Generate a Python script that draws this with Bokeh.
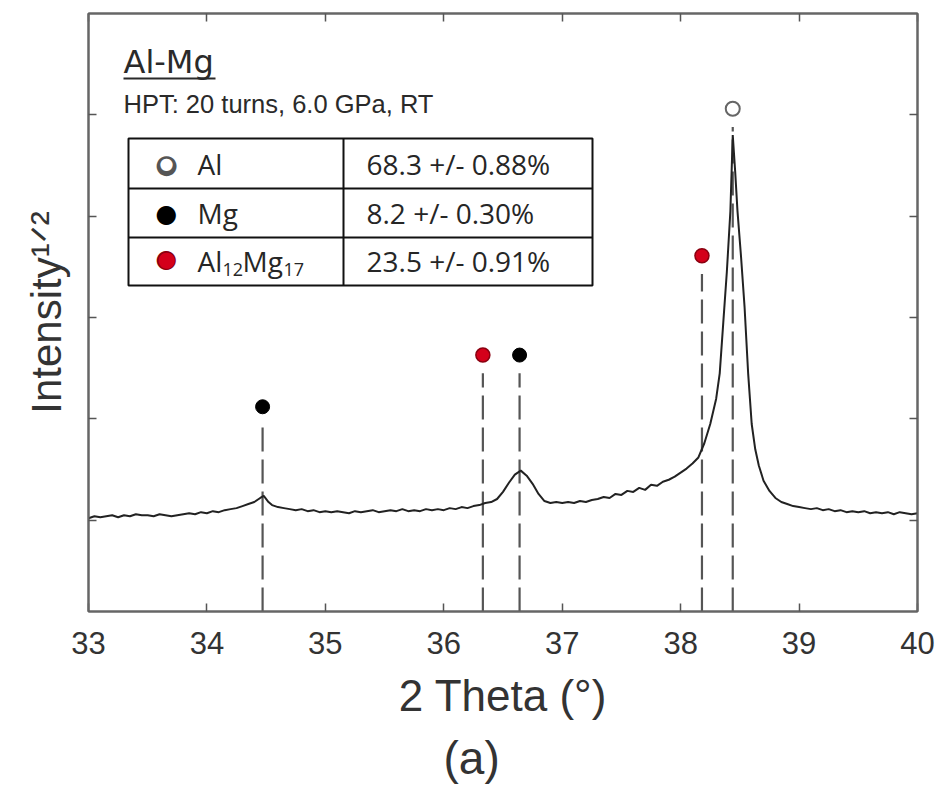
import numpy as np
from bokeh.plotting import figure
from bokeh.models import (Range1d, LinearAxis, FixedTicker, Label, BoxAnnotation, Title,
                          CustomJSTickFormatter)
from bokeh.embed import file_html
from bokeh.resources import INLINE

# ---------------- data ----------------
two_theta = [
    33.00, 33.05, 33.10, 33.15, 33.20, 33.25, 33.30, 33.35, 33.40, 33.45,
    33.50, 33.55, 33.60, 33.65, 33.70, 33.75, 33.80, 33.85, 33.90, 33.95,
    34.00, 34.05, 34.10, 34.15, 34.20, 34.25, 34.30, 34.35, 34.40, 34.45,
    34.48, 34.52, 34.55, 34.60, 34.65, 34.70, 34.75, 34.80, 34.85, 34.90,
    34.95, 35.00, 35.05, 35.10, 35.15, 35.20, 35.25, 35.30, 35.35, 35.40,
    35.45, 35.50, 35.55, 35.60, 35.65, 35.70, 35.75, 35.80, 35.85, 35.90,
    35.95, 36.00, 36.05, 36.10, 36.15, 36.20, 36.25, 36.30, 36.35, 36.40,
    36.45, 36.50, 36.55, 36.60, 36.65, 36.70, 36.75, 36.80, 36.85, 36.90,
    36.95, 37.00, 37.05, 37.10, 37.15, 37.20, 37.25, 37.30, 37.35, 37.40,
    37.45, 37.50, 37.55, 37.60, 37.65, 37.70, 37.75, 37.80, 37.85, 37.90,
    37.95, 38.00, 38.05, 38.10, 38.15, 38.20, 38.25, 38.30, 38.33, 38.36,
    38.39, 38.42, 38.44, 38.46, 38.48, 38.51, 38.54, 38.57, 38.60, 38.63,
    38.66, 38.70, 38.75, 38.80, 38.85, 38.90, 38.95, 39.00, 39.05, 39.10,
    39.15, 39.20, 39.25, 39.30, 39.35, 39.40, 39.45, 39.50, 39.55, 39.60,
    39.65, 39.70, 39.75, 39.80, 39.85, 39.90, 39.95, 40.00,
]
intensity = [
    1.02, 1.04, 1.03, 1.04, 1.05, 1.03, 1.05, 1.04, 1.06, 1.05,
    1.05, 1.04, 1.06, 1.05, 1.04, 1.05, 1.06, 1.07, 1.06, 1.08,
    1.07, 1.09, 1.08, 1.10, 1.11, 1.12, 1.14, 1.16, 1.18, 1.22,
    1.24, 1.18, 1.15, 1.13, 1.12, 1.11, 1.10, 1.11, 1.09, 1.10,
    1.08, 1.09, 1.08, 1.09, 1.08, 1.07, 1.09, 1.08, 1.09, 1.10,
    1.08, 1.09, 1.10, 1.09, 1.11, 1.09, 1.10, 1.09, 1.11, 1.10,
    1.11, 1.10, 1.12, 1.11, 1.13, 1.12, 1.14, 1.15, 1.17, 1.18,
    1.21, 1.28, 1.37, 1.45, 1.49, 1.44, 1.36, 1.26, 1.19, 1.17,
    1.18, 1.17, 1.18, 1.17, 1.19, 1.18, 1.20, 1.21, 1.23, 1.22,
    1.26, 1.25, 1.29, 1.28, 1.32, 1.30, 1.35, 1.34, 1.38, 1.40,
    1.43, 1.47, 1.51, 1.56, 1.62, 1.76, 1.95, 2.20, 2.45, 2.95,
    3.45, 4.05, 4.80, 4.45, 4.05, 3.60, 3.10, 2.45, 1.95, 1.70,
    1.54, 1.39, 1.29, 1.22, 1.18, 1.16, 1.14, 1.13, 1.12, 1.11,
    1.12, 1.10, 1.11, 1.09, 1.10, 1.08, 1.09, 1.08, 1.09, 1.07,
    1.08, 1.07, 1.08, 1.06, 1.08, 1.07, 1.06, 1.07,
]

x_ticks = [33, 34, 35, 36, 37, 38, 39, 40]
y_ticks = [1, 2, 3, 4, 5]
x_min, x_max = 33.0, 40.0
y_min, y_max = 0.1, 6.0

# reflection positions (2 theta) and marker heights
al_peaks = [38.44]
al_marker_y = [5.06]
mg_peaks = [34.47, 36.64]
mg_marker_y = [2.12, 2.63]
al12mg17_peaks = [36.33, 38.18]
al12mg17_marker_y = [2.63, 3.61]

phase_fractions = ["68.3 +/- 0.88%", "8.2 +/- 0.30%", "23.5 +/- 0.91%"]

# ---------------- figure ----------------
W, H = 938, 791
p = figure(width=W, height=H, x_range=Range1d(x_min, x_max), y_range=Range1d(y_min, y_max),
           output_backend="svg", toolbar_location=None,
           min_border_left=88, min_border_right=W - 917, min_border_top=13,
           min_border_bottom=H - 611)
p.xgrid.visible = False
p.ygrid.visible = False
p.outline_line_color = "#666666"
p.outline_line_width = 2
p.background_fill_color = "white"
p.border_fill_color = "white"

AX = "#666666"
TK = "#555555"

def style_axis(ax, show_labels=False):
    ax.axis_line_color = AX
    ax.axis_line_width = 2
    ax.major_tick_in = 8
    ax.major_tick_out = 0
    ax.minor_tick_in = 0
    ax.minor_tick_out = 0
    ax.major_tick_line_color = TK
    ax.major_tick_line_width = 1.5
    if not show_labels:
        ax.formatter = CustomJSTickFormatter(code="return ''")
        ax.major_label_text_font_size = "1px"
        ax.major_label_standoff = 0

p.xaxis.ticker = FixedTicker(ticks=x_ticks)
p.yaxis.ticker = FixedTicker(ticks=y_ticks)
style_axis(p.xaxis[0], show_labels=True)
style_axis(p.yaxis[0])
p.xaxis.major_label_text_font = "Liberation Sans"
p.xaxis.major_label_text_font_size = "31px"
p.xaxis.major_label_text_color = "#333333"
p.xaxis.major_label_standoff = 20

p.xaxis.axis_label = "2 Theta (\u00B0)"
p.xaxis.axis_label_text_font = "Liberation Sans"
p.xaxis.axis_label_text_font_size = "44px"
p.xaxis.axis_label_text_font_style = "normal"
p.xaxis.axis_label_text_color = "#333333"
p.xaxis.axis_label_standoff = 14

p.yaxis.axis_label = "Intensity\u00B9\u141F\u00B2"
p.yaxis.axis_label_text_font = "Liberation Sans"
p.yaxis.axis_label_text_font_size = "42px"
p.yaxis.axis_label_text_font_style = "normal"
p.yaxis.axis_label_text_color = "#333333"
p.yaxis.axis_label_standoff = 19

top_ax = LinearAxis(ticker=FixedTicker(ticks=x_ticks))
style_axis(top_ax)
p.add_layout(top_ax, "above")
right_ax = LinearAxis(ticker=FixedTicker(ticks=y_ticks))
style_axis(right_ax)
p.add_layout(right_ax, "right")

p.add_layout(Title(text="(a)", align="left", offset=355, standoff=14,
                   text_font="Liberation Sans", text_font_size="46px",
                   text_font_style="normal", text_color="#333333"), "below")

# ---------------- data glyphs ----------------
all_peaks = al_peaks + mg_peaks + al12mg17_peaks
all_tops = [v - 0.18 for v in al_marker_y + mg_marker_y + al12mg17_marker_y]
p.segment(x0=all_peaks, y0=[y_min] * len(all_peaks), x1=all_peaks, y1=all_tops,
          line_color="#555555", line_width=2.2, line_dash="24 8")

p.line(two_theta, intensity, line_color="#222222", line_width=2)

p.scatter(al_peaks, al_marker_y, marker="circle", size=14, fill_color="white",
          line_color="#666666", line_width=2)
p.scatter(mg_peaks, mg_marker_y, marker="circle", size=14, fill_color="black",
          line_color="black", line_width=1)
p.scatter(al12mg17_peaks, al12mg17_marker_y, marker="circle", size=14, fill_color="#d4001a",
          line_color="#8a0010", line_width=1.5)

# ---------------- annotations (screen units relative to frame, anchored at text middle) ----
def lab(text, x, y, size, font="Liberation Sans", color="#222222", align="left", angle=0):
    p.add_layout(Label(x=x, y=y, x_units="screen", y_units="screen", text=text,
                       text_font=font, text_font_size=size, text_color=color,
                       text_align=align, text_baseline="middle", angle=angle))

def box(l, r, b, t, fill="black", line=None, lw=0):
    p.add_layout(BoxAnnotation(left=l, right=r, bottom=b, top=t,
                               left_units="screen", right_units="screen",
                               bottom_units="screen", top_units="screen",
                               fill_color=fill, fill_alpha=1.0,
                               line_color=line, line_width=lw, line_alpha=1.0 if line else 0))

# header
lab("Al-Mg", 35, 550, "32px", font="DejaVu Sans", color="#2a2a2a")
lab("HPT: 20 turns, 6.0 GPa, RT", 35, 508, "25.5px", color="#2a2a2a")

# table background
box(40, 504, 326, 473, fill="white", line="#111111", lw=2)

TF = "Open Sans"
TC = "#262626"
# legend symbols of the table
lab("\u25CF", 78, 448, "26px", font="DejaVu Sans", color="#555555", align="center")
lab("\u25CF", 78, 448, "16px", font="DejaVu Sans", color="#ffffff", align="center")
lab("\u25CF", 78, 398, "25px", font="DejaVu Sans", color="#000000", align="center")
lab("\u25CF", 78, 353, "25px", font="DejaVu Sans", color="#8a0010", align="center")
lab("\u25CF", 78, 353, "21px", font="DejaVu Sans", color="#d4001a", align="center")

lab("Al", 109, 448, "28px", font=TF, color=TC)
lab("Mg", 109, 399, "28px", font=TF, color=TC)
lab("Al", 109, 351, "28px", font=TF, color=TC)
lab("12", 134, 342, "18px", font=TF, color=TC)
lab("Mg", 154, 351, "28px", font=TF, color=TC)
lab("17", 195, 342, "18px", font=TF, color=TC)

for i, txt in enumerate(phase_fractions):
    lab(txt, 278, [448, 399, 351][i], "28px", font=TF, color=TC)

# table rules and underline
box(40, 504, 373, 375, fill="#111111")
box(40, 504, 422, 424, fill="#111111")
box(254, 256, 326, 473, fill="#111111")
box(35, 127, 532, 534, fill="#2a2a2a")

html = file_html(p, INLINE)
open("out.html", "w").write(html)
